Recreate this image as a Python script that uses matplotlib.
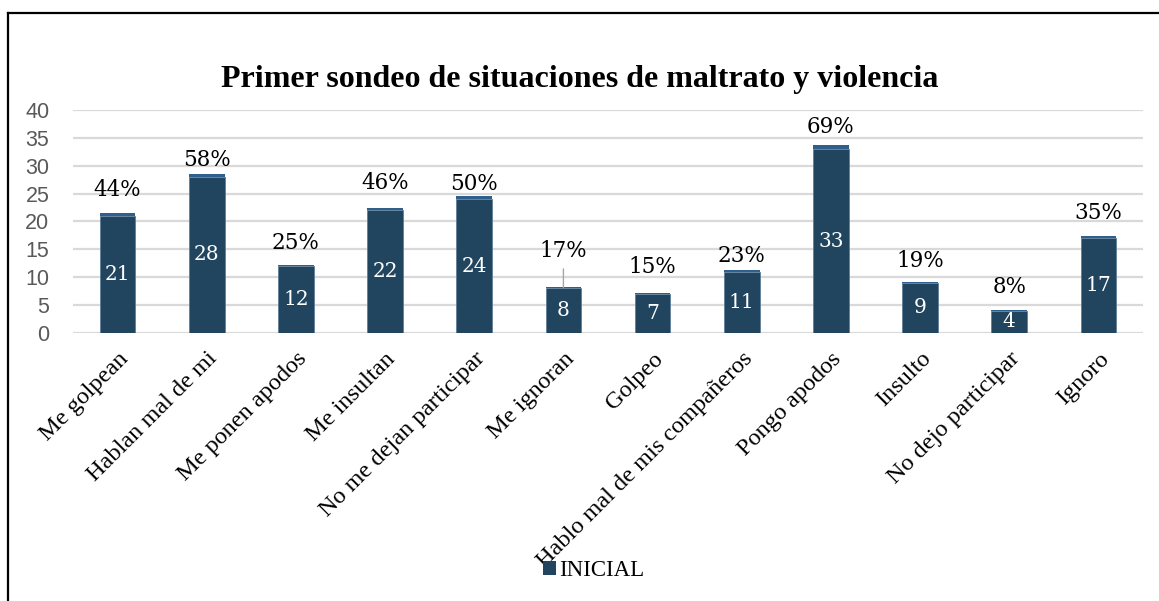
import matplotlib
matplotlib.use("Agg")
import matplotlib.pyplot as plt
import numpy as np
from matplotlib.patches import Patch
from matplotlib.lines import Line2D

categories = ["Me golpean", "Hablan mal de mi", "Me ponen apodos", "Me insultan",
              "No me dejan participar", "Me ignoran", "Golpeo",
              "Hablo mal de mis compañeros", "Pongo apodos", "Insulto",
              "No dejo participar", "Ignoro"]
counts = [21, 28, 12, 22, 24, 8, 7, 11, 33, 9, 4, 17]
percents = [0.44, 0.58, 0.25, 0.46, 0.50, 0.17, 0.15, 0.23, 0.69, 0.19, 0.08, 0.35]
series_name = "INICIAL"
title = "Primer sondeo de situaciones de maltrato y violencia"
yticks = [0, 5, 10, 15, 20, 25, 30, 35, 40]

# label offsets above bar tops (pixels), as placed in the original
label_offsets_px = [23.5, 13.7, 21.7, 24.8, 12.4, 36.5, 26, 14.4, 18, 20.8, 23.3, 23.3]

navy = "#21445F"
light = "#2F5F8C"
DPI = 100

fig = plt.figure(figsize=(11.59, 6.01), dpi=DPI)
ax = fig.add_axes([73/1159, 1-333/601, (1143-73)/1159, (333-110)/601])

x = np.arange(len(categories))
ax.bar(x, counts, width=0.4, color=navy, edgecolor="#5E7F99", linewidth=0.6, zorder=3)
ax.bar(x, percents, width=0.4, bottom=counts, color=light, linewidth=0, zorder=3)

ax.set_xlim(-0.5, len(categories) - 0.5)
ax.set_ylim(0, 40)
ax.set_yticks(yticks)
ax.yaxis.grid(True, color="#D9D9D9", linewidth=1.6, zorder=0)
ax.set_axisbelow(True)
for s in ["top", "right", "left", "bottom"]:
    ax.spines[s].set_visible(False)
ax.tick_params(axis="y", length=0, pad=17, labelsize=15.5, labelcolor="#595959")
ax.tick_params(axis="x", length=0, pad=11)
for lbl in ax.get_yticklabels():
    lbl.set_fontfamily("Liberation Sans")

ax.set_xticks(x)
ax.set_xticklabels(categories, rotation=45, ha="right", va="top",
                   rotation_mode="anchor", fontsize=17.5, family="Liberation Serif")

# count labels inside bars
for xi, c in zip(x, counts):
    ax.text(xi, c / 2, str(c), ha="center", va="center", color="white",
            fontsize=14.5, family="DejaVu Serif", zorder=4)

# percent labels above bars
pt_per_px = 72.0 / DPI
for xi, c, p, off in zip(x, counts, percents, label_offsets_px):
    top = c + p
    kw = dict(textcoords="offset points", ha="center", va="center",
              fontsize=15.5, family="DejaVu Serif", color="black")
    if categories[xi] == "Me ignoran":
        kw["arrowprops"] = dict(arrowstyle="-", color="#A6A6A6", lw=1.0,
                                shrinkA=3, shrinkB=0)
    ax.annotate(f"{round(p*100)}%", xy=(xi, top), xytext=(0, off * pt_per_px), **kw)

fig.text(580/1159, 1-80/601, title, ha="center", va="center",
         fontsize=23, fontweight="bold", family="Liberation Serif")

# legend
fig.legend(handles=[Patch(facecolor=navy, label=series_name)],
           loc="center", bbox_to_anchor=(594/1159, 1-571/601), frameon=False,
           prop={"family": "Liberation Serif", "size": 16.5},
           handlelength=0.55, handleheight=0.55, handletextpad=0.15)

# chart border (top and left)
fig.add_artist(Line2D([8/1159, 1.0], [1-12.5/601, 1-12.5/601], color="black", lw=1.6,
                      transform=fig.transFigure))
fig.add_artist(Line2D([8/1159, 8/1159], [0, 1-12.5/601], color="black", lw=1.6,
                      transform=fig.transFigure))

fig.savefig("out.png", dpi=DPI)
